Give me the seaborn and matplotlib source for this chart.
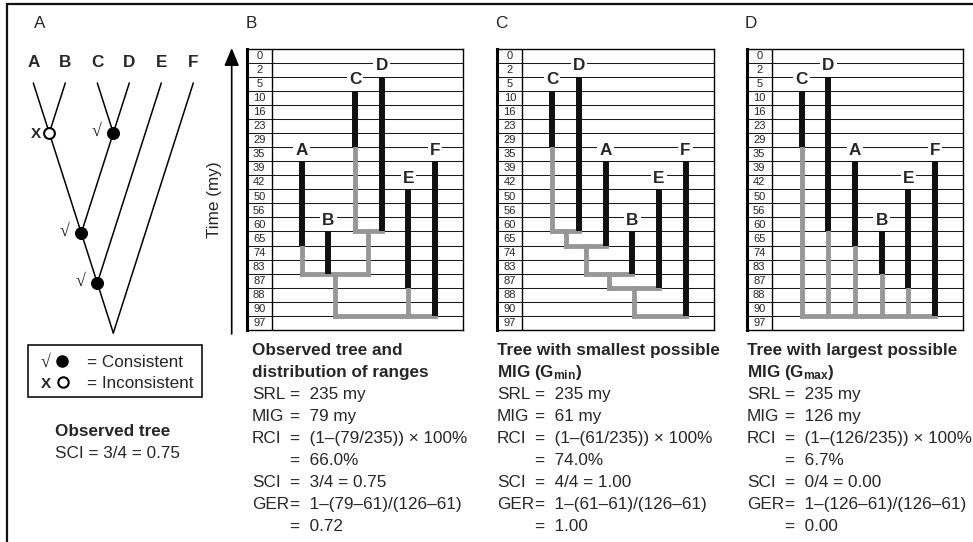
import numpy as np
import pandas as pd
import matplotlib
matplotlib.use("Agg")
import matplotlib.pyplot as plt
from matplotlib.patches import Rectangle
import seaborn as sns

W, H = 973, 542

# time scale of the range ladders (my); each label sits just above its line
time_labels = [0, 2, 5, 10, 16, 23, 29, 35, 39, 42, 50, 56, 60, 65, 74, 83, 87, 88, 90, 97]

taxa = ["A", "B", "C", "D", "E", "F"]
range_top = [35, 60, 5, 2, 42, 35]      # youngest occurrence (my)
range_base = [65, 83, 29, 60, 87, 90]   # oldest occurrence (my)

# column order of the taxa in panels B, C, D
order_obs = ["A", "B", "C", "D", "E", "F"]
order_min = ["C", "D", "A", "B", "E", "F"]
order_max = ["C", "D", "A", "B", "E", "F"]

# tree nodes as (children, age in my); an int child refers to an earlier node
tree_obs = [(["C", "D"], 60), (["A", "B", 0], 83), ([1, "E", "F"], 90)]
tree_min = [(["C", "D"], 60), ([0, "A"], 65), ([1, "B"], 83), ([2, "E"], 87), ([3, "F"], 90)]
tree_max = [(["C", "D", "A", "B", "E", "F"], 90)]

# cladogram of panel A: (children, consistent with stratigraphy; None = root, not scored)
clado_nodes = [(["A", "B"], False), (["C", "D"], True), ([0, 1], True),
               ([2, "E"], True), ([3, "F"], None)]

# summary statistics under panels B, C, D
srl = [235, 235, 235]
mig = [79, 61, 126]
rci = ["66.0%", "74.0%", "6.7%"]
sci_hits = [3, 4, 0]
sci = ["0.75", "1.00", "0.00"]
ger = ["0.72", "1.00", "0.00"]
g_min, g_max = 61, 126

titles = [["Observed tree and", "distribution of ranges"],
          ["Tree with smallest possible", r"MIG (G$_{\mathbf{min}}$)"],
          ["Tree with largest possible", r"MIG (G$_{\mathbf{max}}$)"]]

sns.set_theme(style="white")
plt.rcParams["font.family"] = ["Liberation Sans", "DejaVu Sans"]
plt.rcParams["mathtext.fontset"] = "custom"
plt.rcParams["mathtext.rm"] = "Liberation Sans"
plt.rcParams["mathtext.bf"] = "Liberation Sans:bold"
plt.rcParams["mathtext.it"] = "Liberation Sans:italic"

FS = 12.3
GHOST = "#979797"
SERIF = ["Liberation Serif", "DejaVu Serif"]

fig = plt.figure(figsize=(W / 100, H / 100), dpi=100)


def px_axes(left, top, width, height):
    return fig.add_axes([left / W, 1 - (top + height) / H, width / W, height / H])


def draw_segments(ax, segs, color, lw, cap="butt", zorder=2):
    df = pd.DataFrame(
        [(k, x, y) for k, (x0, y0, x1, y1) in enumerate(segs) for x, y in ((x0, y0), (x1, y1))],
        columns=["seg", "x", "y"])
    sns.lineplot(data=df, x="x", y="y", units="seg", estimator=None, sort=False,
                 color=color, linewidth=lw, solid_capstyle=cap, zorder=zorder,
                 ax=ax, legend=False)
    ax.set(xlabel="", ylabel="")


# overlay in pixel units for frame, captions, legend
ax0 = px_axes(0, 0, W, H)
ax0.set_xlim(0, W)
ax0.set_ylim(H, 0)
ax0.axis("off")
ax0.plot([7, 7, W], [H, 4, 4], color="#111111", lw=1.6, solid_joinstyle="miter")

# ---- panel A: cladogram ----
ax_a = px_axes(17.3, 48, 192, 292)
tips = {t: (i, 0.0) for i, t in enumerate(taxa)}
nodes = []
for children, ok in clado_nodes:
    (xl, tl), (xr, tr) = [nodes[c] if isinstance(c, int) else tips[c] for c in children]
    t = (xr - xl) / 2 + (tl + tr) / 2
    nodes.append((xl + (t - tl), t))
depth = nodes[-1][1]
nodes = [(x, t / depth) for x, t in nodes]
segs = []
for (children, ok), (nx, nt) in zip(clado_nodes, nodes):
    for c in children:
        cx, ct = nodes[c] if isinstance(c, int) else tips[c]
        segs.append((cx, ct, nx, nt))
draw_segments(ax_a, segs, "black", 1.1, cap="round")
node_df = pd.DataFrame({"x": [n[0] for n in nodes], "t": [n[1] for n in nodes],
                        "ok": [c[1] for c in clado_nodes]})
good = node_df[node_df.ok == True]
bad = node_df[node_df.ok == False]
sns.scatterplot(data=good, x="x", y="t", s=75, color="black",
                edgecolor="black", ax=ax_a, zorder=4, legend=False)
sns.scatterplot(data=bad, x="x", y="t", s=60, color="white",
                edgecolor="black", linewidth=1.5, ax=ax_a, zorder=4, legend=False)
for _, r in good.iterrows():
    ax_a.annotate("√", (r.x, r.t), xytext=(-12, 1), textcoords="offset points",
                  ha="center", va="center", fontsize=13, family=SERIF)
for _, r in bad.iterrows():
    ax_a.annotate("X", (r.x, r.t), xytext=(-9.5, -1), textcoords="offset points",
                  ha="center", va="center", fontsize=11, fontweight="bold")
for name, (x, _) in tips.items():
    ax_a.text(x, -0.084, name, ha="center", va="center", fontsize=FS, fontweight="bold")
ax_a.set_xlim(-0.5, 5.5)
ax_a.set_ylim(1.028, -0.14)
ax_a.axis("off")

# ---- panels B, C, D: range ladders ----
yrow = {t: i + 1 for i, t in enumerate(time_labels)}
top = dict(zip(taxa, range_top))
base = dict(zip(taxa, range_base))


def ladder(left, order, tree):
    ax = px_axes(left, 48.5, 216.6, 281.5)
    col = {t: i for i, t in enumerate(order)}
    x0, x1, sep = -2.06, 6.06, -1.12
    ax.hlines(np.arange(1, len(time_labels)), x0, x1, color="#1a1a1a", lw=0.75, zorder=1)
    ax.axvline(sep, color="black", lw=1.0, zorder=1)
    for i, t in enumerate(time_labels):
        ax.text((x0 + sep) / 2, i + 0.52, str(t), ha="center", va="center", fontsize=8)

    nx, nt, ghosts = [], [], []
    for children, age in tree:
        pts = [(nx[c], nt[c]) if isinstance(c, int) else (col[c], base[c]) for c in children]
        xs = [p[0] for p in pts]
        for x, t in pts:
            if age > t:
                ghosts.append((x, yrow[t], x, yrow[age]))
        ghosts.append((min(xs), yrow[age], max(xs), yrow[age]))
        nx.append((min(xs) + max(xs)) / 2)
        nt.append(age)
    draw_segments(ax, ghosts, GHOST, 3.5, cap="projecting", zorder=2)
    bars = [(col[t], yrow[top[t]], col[t], yrow[base[t]]) for t in order]
    draw_segments(ax, bars, "#111111", 4.3, cap="butt", zorder=3)
    for t in order:
        ax.text(col[t], yrow[top[t]] - 0.78, t, ha="center", va="center", fontsize=FS,
                fontweight="bold", zorder=5,
                bbox=dict(boxstyle="square,pad=0.12", fc="white", ec="none"))
    ax.set_xlim(x0, x1)
    ax.set_ylim(len(time_labels), 0)
    ax.set_xticks([])
    ax.set_yticks([])
    for s in ax.spines.values():
        s.set_visible(True)
        s.set_color("black")
        s.set_linewidth(1.0)
    ax.spines["left"].set_linewidth(2.2)
    return ax


ladder(246.7, order_obs, tree_obs)
ladder(497.3, order_min, tree_min)
ladder(746.7, order_max, tree_max)

# panel letters
for lab, x in zip("ABCD", [40, 251, 501, 751]):
    ax0.text(x, 24, lab, ha="center", va="center", fontsize=FS)

# time arrow
ax0.annotate("", xy=(231.7, 48), xytext=(231.7, 334),
             arrowprops=dict(arrowstyle="-|>,head_length=0.6,head_width=0.25",
                             color="black", lw=1.2, mutation_scale=18, shrinkA=0, shrinkB=0))
ax0.text(215, 200, "Time (my)", rotation=90, ha="center", va="center", fontsize=FS)

# legend box of panel A
ax0.add_patch(Rectangle((27.7, 345), 174, 51.7, fill=False, ec="#111111", lw=1.2))
ax0.text(45, 367, "√", ha="center", va="baseline", fontsize=13, family=SERIF)
ax0.plot([62], [360.7], "o", ms=8, color="black")
ax0.text(46, 388, "X", ha="center", va="baseline", fontsize=11, fontweight="bold")
ax0.plot([63], [382], "o", ms=7.5, mfc="white", mec="black", mew=1.5)
ax0.text(87, 367, "= Consistent", va="baseline", fontsize=FS)
ax0.text(87, 388, "= Inconsistent", va="baseline", fontsize=FS)
ax0.text(55, 436, "Observed tree", va="baseline", fontsize=FS, fontweight="bold")
ax0.text(55, 458, "SCI = 3/4 = 0.75", va="baseline", fontsize=FS)

# captions under panels B, C, D
for k, left in enumerate([251.7, 496.7, 746.7]):
    rows = [("SRL", f"=  {srl[k]} my"),
            ("MIG", f"=  {mig[k]} my"),
            ("RCI", f"=  (1–({mig[k]}/{srl[k]})) × 100%"),
            ("", f"=  {rci[k]}"),
            ("SCI", f"=  {sci_hits[k]}/4 = {sci[k]}"),
            ("GER", f"=  1–({mig[k]}–{g_min})/({g_max}–{g_min})"),
            ("", f"=  {ger[k]}")]
    y = 355
    for line in titles[k]:
        ax0.text(left, y, line, va="baseline", fontsize=FS, fontweight="bold")
        y += 22
    for lab, val in rows:
        ax0.text(left, y, lab, va="baseline", fontsize=FS)
        ax0.text(left + 38, y, val, va="baseline", fontsize=FS)
        y += 22

fig.savefig("out.png", dpi=100)
